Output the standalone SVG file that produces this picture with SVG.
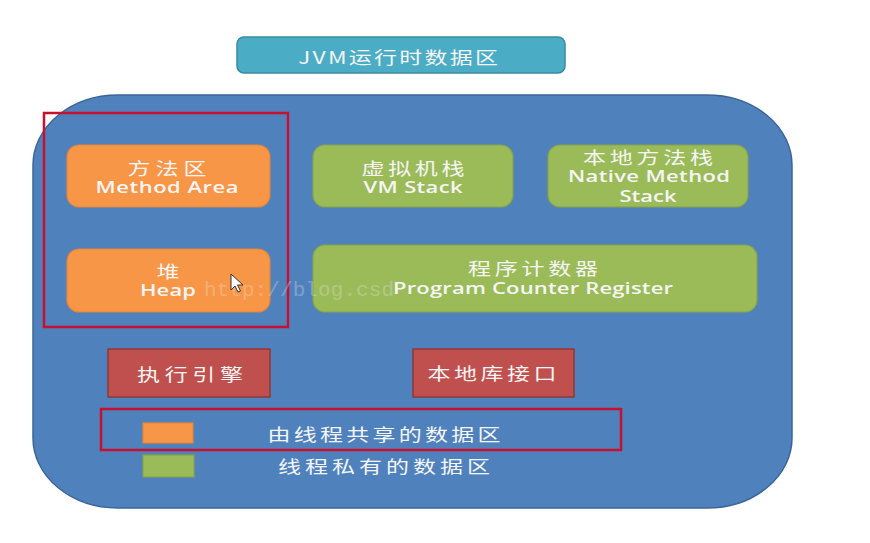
<svg xmlns="http://www.w3.org/2000/svg" width="870" height="543" viewBox="0 0 870 543">
<defs>
<style>
.t{fill:#f5f5f5;text-anchor:middle;dominant-baseline:central}
.cj{font-size:23px;font-family:"Noto Sans CJK SC","Noto Sans",sans-serif}
.la{font-size:22px;font-weight:600;font-family:"Open Sans","Noto Sans",sans-serif}
.org{fill:#f79646;stroke:#e3853a;stroke-width:1.2}
.grn{fill:#9bbb59;stroke:#86a548;stroke-width:1.2}
.red{fill:#c0504d;stroke:#8e3936;stroke-width:1.5}
.hl{fill:none;stroke:#c8102e;stroke-width:2.5}
</style>
</defs>
<rect width="870" height="543" fill="#ffffff"/>
<g id="title">
<rect x="237" y="37" width="328" height="36" rx="7" fill="#4bacc6" stroke="#3a8aa0" stroke-width="1.5"/>
<text class="t cj" x="398" y="56" font-size="21" transform="translate(0,14) scale(1,0.75)" textLength="200" lengthAdjust="spacing">JVM运行时数据区</text>
</g>
<g id="runtime-area">
<rect x="33" y="95" width="759" height="413" rx="85" ry="70" fill="#4f81bd" stroke="#3b6598" stroke-width="1.5"/>
</g>
<g id="method-area">
<rect class="org" x="67" y="145" width="203" height="62" rx="12"/>
<text class="t cj" x="167" y="167" transform="translate(0,41.75) scale(1,0.75)" textLength="79" lengthAdjust="spacing">方法区</text>
<text class="t la" x="167" y="187" transform="translate(0,46.75) scale(1,0.75)" textLength="143" lengthAdjust="spacing">Method Area</text>
</g>
<g id="heap">
<rect class="org" x="67" y="249" width="203" height="63" rx="12"/>
<text class="t cj" x="168" y="270" transform="translate(0,67.5) scale(1,0.75)">堆</text>
<text class="t la" x="168" y="290" transform="translate(0,72.5) scale(1,0.75)" textLength="56" lengthAdjust="spacing">Heap</text>
</g>
<g id="vm-stack">
<rect class="grn" x="313" y="145" width="200" height="62" rx="12"/>
<text class="t cj" x="413" y="167" transform="translate(0,41.75) scale(1,0.75)" textLength="103" lengthAdjust="spacing">虚拟机栈</text>
<text class="t la" x="413" y="187" transform="translate(0,46.75) scale(1,0.75)" textLength="99" lengthAdjust="spacing">VM Stack</text>
</g>
<g id="native-method-stack">
<rect class="grn" x="548" y="145" width="200" height="62" rx="12"/>
<text class="t cj" x="648" y="156" transform="translate(0,39) scale(1,0.75)" textLength="130" lengthAdjust="spacing">本地方法栈</text>
<text class="t la" x="649" y="176" transform="translate(0,44) scale(1,0.75)" textLength="162" lengthAdjust="spacing">Native Method</text>
<text class="t la" x="648" y="196" transform="translate(0,49) scale(1,0.75)" textLength="57" lengthAdjust="spacing">Stack</text>
</g>
<g id="pc-register">
<rect class="grn" x="313" y="245" width="444" height="67" rx="12"/>
<text class="t cj" x="533" y="267" transform="translate(0,66.75) scale(1,0.75)" textLength="130" lengthAdjust="spacing">程序计数器</text>
<text class="t la" x="533" y="288" font-size="21" transform="translate(0,72) scale(1,0.75)" textLength="280" lengthAdjust="spacing">Program Counter Register</text>
</g>
<g id="execution-engine">
<rect class="red" x="108" y="349" width="162" height="48"/>
<text class="t cj" x="190" y="373" transform="translate(0,93.25) scale(1,0.75)" textLength="106" lengthAdjust="spacing">执行引擎</text>
</g>
<g id="native-interface">
<rect class="red" x="413" y="349" width="161" height="48"/>
<text class="t cj" x="492" y="372" transform="translate(0,93) scale(1,0.75)" textLength="129" lengthAdjust="spacing">本地库接口</text>
</g>
<g id="shared-highlight">
<rect class="hl" x="44" y="113" width="244" height="214"/>
</g>
<g id="legend">
<rect class="org" x="143" y="423" width="50" height="20"/>
<text class="t cj" x="384" y="433" font-size="22" transform="translate(0,108.25) scale(1,0.75)" textLength="233" lengthAdjust="spacing">由线程共享的数据区</text>
<rect class="grn" x="143" y="455" width="51" height="22"/>
<text class="t cj" x="384" y="465" font-size="22" transform="translate(0,116.25) scale(1,0.75)" textLength="212" lengthAdjust="spacing">线程私有的数据区</text>
<rect class="hl" x="101" y="409" width="520" height="41"/>
</g>
<g id="connectors"/>
<g id="watermark" opacity="0.3">
<text x="204" y="296" font-family="Liberation Mono, monospace" font-size="21" fill="#e8e8e8" textLength="190" lengthAdjust="spacing">http://blog.csd</text>
</g>
<g id="cursor">
<path d="M231 274 L231 290 L235 286 L238 292 L240.5 291 L237.5 285 L243 285 Z" fill="#ffffff" stroke="#333333" stroke-width="1" stroke-linejoin="round"/>
</g>
</svg>
